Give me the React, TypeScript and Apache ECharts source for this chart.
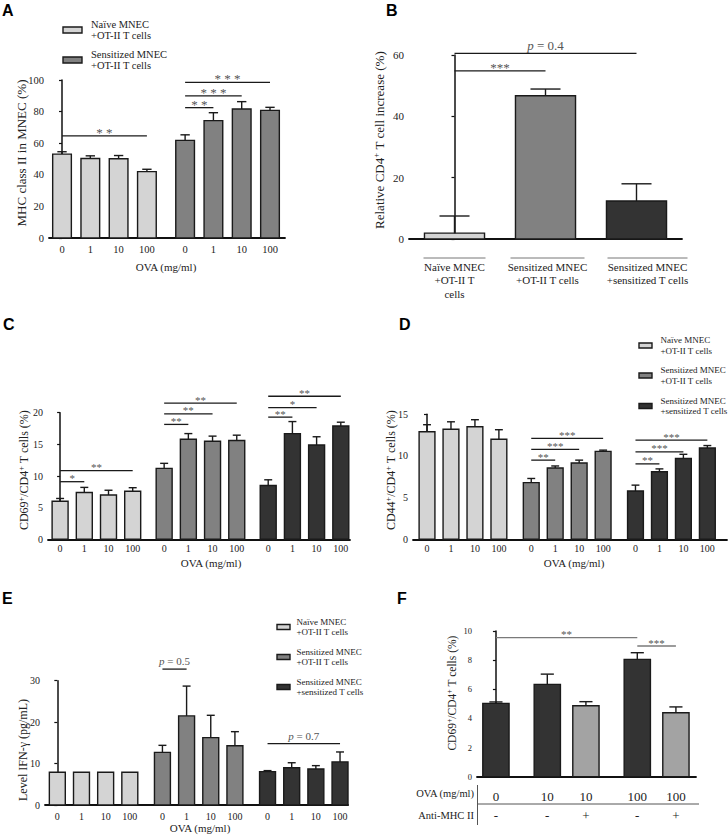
import { useEffect, useRef } from 'react';
import * as echarts from 'echarts';

const SERIF = 'Liberation Serif, Times New Roman, serif';
const SANS = 'Liberation Sans, Arial, sans-serif';

const C_NAIVE = '#d4d4d4';
const C_SENS = '#818181';
const C_SENS_T = '#333333';
const C_BLOCK = '#a3a3a3';
const INK = '#1a1a1a';
const TXT = '#222222';
const STAR = '#555555';

const ovaTicks = ['0', '1', '10', '100'];
const legendNames = ['Naïve MNEC\n+OT-II T cells', 'Sensitized MNEC\n+OT-II T cells', 'Sensitized MNEC\n+sensitized T cells'];

// ---------- Panel A ----------
const aNaive = [53.1, 50.3, 50.2, 42.0];
const aNaiveErr = [1.5, 1.7, 2.0, 1.5];
const aSens = [61.8, 74.3, 81.6, 80.8];
const aSensErr = [3.5, 5.0, 4.7, 1.9];
const aSigGroup = [0, 1, 1, 1];
const aSigFrom = [0, 0, 0, 0];
const aSigTo = [3, 1, 2, 3];
const aSigY = [64.6, 82.5, 90.0, 98.5];
const aSigText = ['* *', '* *', '* * *', '* * *'];

// ---------- Panel B ----------
const bGroups = ['Naïve MNEC\n+OT-II T\ncells', 'Sensitized MNEC\n+OT-II T cells', 'Sensitized MNEC\n+sensitized T cells'];
const bValues = [1.9, 46.7, 12.4];
const bErr = [5.6, 2.2, 5.6];
const bSigFrom = [0, 0];
const bSigTo = [1, 2];
const bSigY = [54.8, 60.5];
const bSigText = ['***', 'p = 0.4'];

// ---------- Panel C ----------
const cNaive = [6.0, 7.4, 7.0, 7.6];
const cNaiveErr = [0.45, 0.8, 0.75, 0.55];
const cSens = [11.2, 15.8, 15.5, 15.6];
const cSensErr = [0.8, 0.9, 0.8, 0.85];
const cSensT = [8.5, 16.7, 14.9, 17.9];
const cSensTErr = [0.9, 1.9, 1.3, 0.6];
const cSigGroup = [0, 0, 1, 1, 1, 2, 2, 2];
const cSigFrom = [0, 0, 0, 0, 0, 0, 0, 0];
const cSigTo = [1, 3, 1, 2, 3, 1, 2, 3];
const cSigY = [9.1, 10.85, 18.15, 19.8, 21.5, 19.3, 20.8, 22.6];
const cSigText = ['*', '**', '**', '**', '**', '**', '*', '**'];

// ---------- Panel D ----------
const dNaive = [12.9, 13.2, 13.5, 12.0];
const dNaiveErr = [0.85, 0.9, 0.85, 1.15];
const dSens = [6.8, 8.55, 9.15, 10.55];
const dSensErr = [0.5, 0.25, 0.35, 0.15];
const dSensT = [5.8, 8.1, 9.7, 10.95];
const dSensTErr = [0.7, 0.35, 0.5, 0.3];
const dSigGroup = [1, 1, 1, 2, 2, 2];
const dSigFrom = [0, 0, 0, 0, 0, 0];
const dSigTo = [1, 2, 3, 1, 2, 3];
const dSigY = [9.5, 10.8, 12.1, 9.05, 10.5, 11.9];
const dSigText = ['**', '***', '***', '**', '***', '***'];

// ---------- Panel E ----------
const eNaive = [7.9, 7.9, 7.9, 7.9];
const eNaiveErr = [0, 0, 0, 0];
const eSens = [12.7, 21.5, 16.25, 14.3];
const eSensErr = [1.7, 7.2, 5.4, 3.4];
const eSensT = [8.05, 9.0, 8.7, 10.4];
const eSensTErr = [0.25, 1.2, 0.8, 2.4];
const eSigGroup = [1, 2];
const eSigFrom = [0, 0];
const eSigTo = [1, 3];
const eSigY = [32.8, 14.8];
const eSigText = ['p = 0.5', 'p = 0.7'];

// ---------- Panel F ----------
const fOva = ['0', '10', '10', '100', '100'];
const fAnti = ['-', '-', '+', '-', '+'];
const fGroup = [0, 1, 1, 2, 2];
const fValues = [5.03, 6.34, 4.87, 8.05, 4.39];
const fErr = [0.1, 0.7, 0.28, 0.46, 0.4];
const fBlocked = [false, false, true, false, true];
const fSigFrom = [0, 3];
const fSigTo = [3, 4];
const fSigY = [9.54, 8.97];
const fSigText = ['**', '***'];

// ---------- helpers ----------
function positions(groupOf: number[], gap: number): number[] {
  const out: number[] = [];
  let p = 0;
  groupOf.forEach((g, i) => {
    if (i > 0) p += g !== groupOf[i - 1] ? 1 + gap : 1;
    out.push(p);
  });
  return out;
}

function barItem(colors: string[], widthUnits: number) {
  return (params: any, api: any) => {
    const x = api.value(0);
    const y = api.value(1);
    const e = api.value(2);
    const base = api.coord([x, 0]);
    const top = api.coord([x, y]);
    const errTop = api.coord([x, y + e]);
    const w = api.size([widthUnits, 0])[0];
    const color = colors[params.dataIndex % colors.length];
    const children: any[] = [
      {
        type: 'rect',
        shape: { x: base[0] - w / 2, y: top[1], width: w, height: base[1] - top[1] },
        style: { fill: color, stroke: INK, lineWidth: 1.4 },
      },
    ];
    if (e > 0) {
      children.push({
        type: 'line',
        shape: { x1: base[0], y1: top[1], x2: base[0], y2: errTop[1] },
        style: { stroke: INK, lineWidth: 1.4 },
      });
      children.push({
        type: 'line',
        shape: { x1: base[0] - w / 4, y1: errTop[1], x2: base[0] + w / 4, y2: errTop[1] },
        style: { stroke: INK, lineWidth: 1.4 },
      });
    }
    return { type: 'group', children };
  };
}

function sigItem(texts: string[], fontSize: number, lineColor: string, textColor: string) {
  return (params: any, api: any) => {
    const p1 = api.coord([api.value(0), api.value(2)]);
    const p2 = api.coord([api.value(1), api.value(2)]);
    const label = texts[params.dataIndex];
    const isP = label.charAt(0) === 'p';
    return {
      type: 'group',
      children: [
        {
          type: 'line',
          shape: { x1: p1[0], y1: p1[1], x2: p2[0], y2: p2[1] },
          style: { stroke: lineColor, lineWidth: 1.3 },
        },
        {
          type: 'text',
          style: {
            text: isP ? '{i|p}' + label.slice(1) : label,
            x: (p1[0] + p2[0]) / 2,
            y: p1[1] - (isP ? 8 : 3.5),
            align: 'center',
            verticalAlign: 'middle',
            fontSize,
            fontFamily: SERIF,
            fill: textColor,
            rich: { i: { fontStyle: 'italic', fontSize, fontFamily: SERIF, fill: textColor } },
          },
        },
      ],
    };
  };
}

const grids: any[] = [];
const xAxes: any[] = [];
const yAxes: any[] = [];
const series: any[] = [];
const graphics: any[] = [];

function yAxis(gi: number, max: number, interval: number, fontSize: number) {
  return {
    type: 'value',
    gridIndex: gi,
    min: 0,
    max,
    interval,
    axisLine: { show: true, lineStyle: { color: '#111', width: 1.5 } },
    axisTick: { show: true, length: 3, lineStyle: { color: '#111', width: 1.2 } },
    splitLine: { show: false },
    axisLabel: { fontSize, fontFamily: SERIF, color: TXT, margin: 5 },
  };
}

function xAxisValue(gi: number, min: number, max: number, pos: number[], labels: string[], extra: any) {
  return {
    type: 'value',
    gridIndex: gi,
    min,
    max,
    axisLine: { show: true, onZero: false, lineStyle: { color: '#111', width: 1.8 } },
    axisTick: { show: false },
    splitLine: { show: false },
    axisLabel: {
      customValues: pos,
      formatter: (v: number) => {
        const i = pos.findIndex((p) => Math.abs(p - v) < 1e-6);
        return i >= 0 ? labels[i] : '';
      },
      fontFamily: SERIF,
      color: TXT,
      ...extra,
    },
  };
}

type GroupPanel = {
  grid: { left: number; top: number; width: number; height: number };
  xMin: number;
  xMax: number;
  gap: number;
  yMax: number;
  yInterval: number;
  yFont: number;
  xFont: number;
  xMargin: number;
  groups: { values: number[]; err: number[]; color: string }[];
  sigGroup: number[];
  sigFrom: number[];
  sigTo: number[];
  sigY: number[];
  sigText: string[];
  sigFont: number;
};

function addGroupPanel(p: GroupPanel) {
  const gi = grids.length;
  grids.push({ ...p.grid });
  const groupOf: number[] = [];
  p.groups.forEach((g, gIdx) => g.values.forEach(() => groupOf.push(gIdx)));
  const pos = positions(groupOf, p.gap);
  const labels = groupOf.map((g, i) => ovaTicks[i - groupOf.indexOf(g)]);
  xAxes.push(xAxisValue(gi, p.xMin, p.xMax, pos, labels, { fontSize: p.xFont, margin: p.xMargin }));
  yAxes.push(yAxis(gi, p.yMax, p.yInterval, p.yFont));
  p.groups.forEach((g, gIdx) => {
    const start = groupOf.indexOf(gIdx);
    series.push({
      type: 'custom',
      xAxisIndex: gi,
      yAxisIndex: gi,
      clip: false,
      silent: true,
      renderItem: barItem([g.color], 0.66),
      encode: { x: 0, y: 1 },
      data: g.values.map((v, i) => [pos[start + i], v, g.err[i]]),
    });
  });
  series.push({
    type: 'custom',
    xAxisIndex: gi,
    yAxisIndex: gi,
    clip: false,
    silent: true,
    renderItem: sigItem(p.sigText, p.sigFont, INK, STAR),
    encode: { x: [0, 1], y: 2 },
    data: p.sigY.map((y, k) => {
      const start = groupOf.indexOf(p.sigGroup[k]);
      return [pos[start + p.sigFrom[k]], pos[start + p.sigTo[k]], y];
    }),
  });
}

function addText(x: number, y: number, text: string, style: any, extra: any = {}) {
  graphics.push({
    type: 'text',
    x,
    y,
    silent: true,
    ...extra,
    style: { text, fontFamily: SERIF, fill: TXT, ...style },
  });
}

function addLegend(x: number, ys: number[], rectW: number, rectH: number, textX: number, fontSize: number, lineHeight: number, colors: string[]) {
  ys.forEach((y, i) => {
    graphics.push({
      type: 'rect',
      silent: true,
      shape: { x, y: y - rectH / 2, width: rectW, height: rectH },
      style: { fill: colors[i], stroke: INK, lineWidth: 1.4 },
    });
    addText(textX, y, legendNames[i], { fontSize, lineHeight, align: 'left', verticalAlign: 'middle' });
  });
}

const supRich = (size: number) => ({ s: { fontSize: size * 0.68, fontFamily: SERIF, fill: TXT, verticalAlign: 'top', padding: [0, 0, size * 0.45, 0] } });

function addYTitle(x: number, y: number, text: string, fontSize: number) {
  addText(x, y, text, { fontSize, align: 'center', verticalAlign: 'middle', rich: supRich(fontSize) }, { rotation: Math.PI / 2 });
}

function addLetter(x: number, y: number, t: string) {
  addText(x, y, t, { fontSize: 16, fontWeight: 'bold', fontFamily: SANS, fill: '#000', align: 'left', verticalAlign: 'top' });
}

// ---------- build panels ----------
addGroupPanel({
  grid: { left: 49, top: 80, width: 236, height: 158 },
  xMin: -0.46,
  xMax: 7.88,
  gap: 0.35,
  yMax: 100,
  yInterval: 20,
  yFont: 10.5,
  xFont: 10.5,
  xMargin: 6,
  groups: [
    { values: aNaive, err: aNaiveErr, color: C_NAIVE },
    { values: aSens, err: aSensErr, color: C_SENS },
  ],
  sigGroup: aSigGroup,
  sigFrom: aSigFrom,
  sigTo: aSigTo,
  sigY: aSigY,
  sigText: aSigText,
  sigFont: 13,
});

// Panel B
{
  const gi = grids.length;
  grids.push({ left: 409, top: 55, width: 273, height: 184 });
  const pos = bValues.map((_, i) => i);
  xAxes.push(xAxisValue(gi, -0.5, 2.5, pos, pos.map(() => ''), { fontSize: 11 }));
  yAxes.push(yAxis(gi, 60, 20, 11));
  series.push({
    type: 'custom',
    xAxisIndex: gi,
    yAxisIndex: gi,
    clip: false,
    silent: true,
    renderItem: barItem([C_NAIVE, C_SENS, C_SENS_T], 0.66),
    encode: { x: 0, y: 1 },
    data: bValues.map((v, i) => [pos[i], v, bErr[i]]),
  });
  series.push({
    type: 'custom',
    xAxisIndex: gi,
    yAxisIndex: gi,
    clip: false,
    silent: true,
    renderItem: sigItem(bSigText, 13, INK, STAR),
    encode: { x: [0, 1], y: 2 },
    data: bSigY.map((y, k) => [pos[bSigFrom[k]], pos[bSigTo[k]], y]),
  });
  // category labels with an overline, drawn at each category position
  const overHalf = [31, 37, 40];
  const shift = [0, 2, 11];
  series.push({
    type: 'custom',
    xAxisIndex: gi,
    yAxisIndex: gi,
    clip: false,
    silent: true,
    renderItem: (params: any, api: any) => {
      const c = api.coord([api.value(0), 0]);
      const i = params.dataIndex;
      const cx = c[0] + shift[i];
      return {
        type: 'group',
        children: [
          {
            type: 'line',
            shape: { x1: cx - overHalf[i], y1: c[1] + 19, x2: cx + overHalf[i], y2: c[1] + 19 },
            style: { stroke: '#666', lineWidth: 0.9 },
          },
          {
            type: 'text',
            style: {
              text: bGroups[i],
              x: cx,
              y: c[1] + 21,
              align: 'center',
              verticalAlign: 'top',
              fontSize: 11,
              lineHeight: 13.5,
              fontFamily: SERIF,
              fill: TXT,
            },
          },
        ],
      };
    },
    encode: { x: 0, y: 1 },
    data: pos.map((p) => [p, 0]),
  });
}

addGroupPanel({
  grid: { left: 48, top: 412.7, width: 302, height: 126.6 },
  xMin: -0.5,
  xMax: 11.98,
  gap: 0.3,
  yMax: 20,
  yInterval: 5,
  yFont: 10,
  xFont: 10,
  xMargin: 4.5,
  groups: [
    { values: cNaive, err: cNaiveErr, color: C_NAIVE },
    { values: cSens, err: cSensErr, color: C_SENS },
    { values: cSensT, err: cSensTErr, color: C_SENS_T },
  ],
  sigGroup: cSigGroup,
  sigFrom: cSigFrom,
  sigTo: cSigTo,
  sigY: cSigY,
  sigText: cSigText,
  sigFont: 11,
});

addGroupPanel({
  grid: { left: 413, top: 414.3, width: 314, height: 125 },
  xMin: -0.585,
  xMax: 12.52,
  gap: 0.35,
  yMax: 15,
  yInterval: 5,
  yFont: 10,
  xFont: 10,
  xMargin: 4.5,
  groups: [
    { values: dNaive, err: dNaiveErr, color: C_NAIVE },
    { values: dSens, err: dSensErr, color: C_SENS },
    { values: dSensT, err: dSensTErr, color: C_SENS_T },
  ],
  sigGroup: dSigGroup,
  sigFrom: dSigFrom,
  sigTo: dSigTo,
  sigY: dSigY,
  sigText: dSigText,
  sigFont: 11,
});

addGroupPanel({
  grid: { left: 45, top: 680.7, width: 303, height: 124.3 },
  xMin: -0.51,
  xMax: 12.03,
  gap: 0.35,
  yMax: 30,
  yInterval: 10,
  yFont: 10,
  xFont: 10,
  xMargin: 6,
  groups: [
    { values: eNaive, err: eNaiveErr, color: C_NAIVE },
    { values: eSens, err: eSensErr, color: C_SENS },
    { values: eSensT, err: eSensTErr, color: C_SENS_T },
  ],
  sigGroup: eSigGroup,
  sigFrom: eSigFrom,
  sigTo: eSigTo,
  sigY: eSigY,
  sigText: eSigText,
  sigFont: 11,
});

// Panel F
{
  const gi = grids.length;
  grids.push({ left: 477, top: 631, width: 219, height: 145.7 });
  const pos = positions(fGroup, 0.33);
  xAxes.push(
    xAxisValue(gi, -0.49, 5.18, pos, fOva.map((o, i) => `${o}\n{s|${fAnti[i]}}`), {
      fontSize: 13,
      lineHeight: 18.3,
      margin: 11,
      rich: { s: { fontSize: 13, lineHeight: 18.3, fontFamily: SERIF, color: TXT } },
    })
  );
  yAxes.push(yAxis(gi, 10, 2, 8.5));
  series.push({
    type: 'custom',
    xAxisIndex: gi,
    yAxisIndex: gi,
    clip: false,
    silent: true,
    renderItem: barItem(fBlocked.map((b) => (b ? C_BLOCK : C_SENS_T)), 0.68),
    encode: { x: 0, y: 1 },
    data: fValues.map((v, i) => [pos[i], v, fErr[i]]),
  });
  series.push({
    type: 'custom',
    xAxisIndex: gi,
    yAxisIndex: gi,
    clip: false,
    silent: true,
    renderItem: sigItem(fSigText, 11, '#7a7a7a', STAR),
    encode: { x: [0, 1], y: 2 },
    data: fSigY.map((y, k) => [pos[fSigFrom[k]], pos[fSigTo[k]], y]),
  });
}

// ---------- decorations ----------
addLetter(2, 2, 'A');
addLetter(386, 2, 'B');
addLetter(3, 316, 'C');
addLetter(399, 316, 'D');
addLetter(2, 590, 'E');
addLetter(397, 590, 'F');

// Panel A legend
addLegend(63, [30, 60], 19, 6, 91, 10.5, 11.5, [C_NAIVE, C_SENS]);
// Panel D / E legends
addLegend(639, [345.5, 375.5, 406], 13, 5, 660.5, 9, 10.5, [C_NAIVE, C_SENS, C_SENS_T]);
addLegend(277, [627, 657, 687], 13, 5, 296.5, 9, 10.5, [C_NAIVE, C_SENS, C_SENS_T]);

// Y titles
addYTitle(21, 153, 'MHC class II in MNEC (%)', 13);
addYTitle(379, 140, 'Relative CD4{s|+} T cell increase (%)', 13);
addYTitle(24, 470, 'CD69{s|+}/CD4{s|+} T cells (%)', 12);
addYTitle(391, 470, 'CD44{s|+}/CD4{s|+} T cells (%)', 12);
addYTitle(23, 750, 'Level IFN-γ (pg/mL)', 12);
addYTitle(452, 693, 'CD69{s|+}/CD4{s|+} T cells (%)', 11.5);

// X names
const xNameStyle = { fontSize: 11, align: 'center', verticalAlign: 'middle' };
addText(166, 267, 'OVA (mg/ml)', xNameStyle);
addText(211, 563, 'OVA (mg/ml)', xNameStyle);
addText(574, 563, 'OVA (mg/ml)', xNameStyle);
addText(200, 828, 'OVA (mg/ml)', xNameStyle);

// Panel F table
addText(474, 793, 'OVA (mg/ml)', { fontSize: 10.5, align: 'right', verticalAlign: 'middle' });
addText(474, 815, 'Anti-MHC II', { fontSize: 10.5, align: 'right', verticalAlign: 'middle' });
graphics.push({ type: 'line', silent: true, shape: { x1: 477.5, y1: 785, x2: 477.5, y2: 825 }, style: { stroke: '#555', lineWidth: 1 } });
graphics.push({ type: 'line', silent: true, shape: { x1: 477, y1: 804, x2: 699, y2: 804 }, style: { stroke: '#555', lineWidth: 1 } });

export default function App() {
  const ref = useRef<HTMLDivElement>(null);
  useEffect(() => {
    if (!ref.current) return;
    const chart = echarts.init(ref.current, undefined, { renderer: 'svg' });
    chart.setOption({
      animation: false,
      backgroundColor: '#ffffff',
      grid: grids,
      xAxis: xAxes,
      yAxis: yAxes,
      series,
      graphic: graphics,
    });
    return () => chart.dispose();
  }, []);
  return <div ref={ref} style={{ position: 'fixed', left: 0, top: 0, width: 728, height: 835 }} />;
}
